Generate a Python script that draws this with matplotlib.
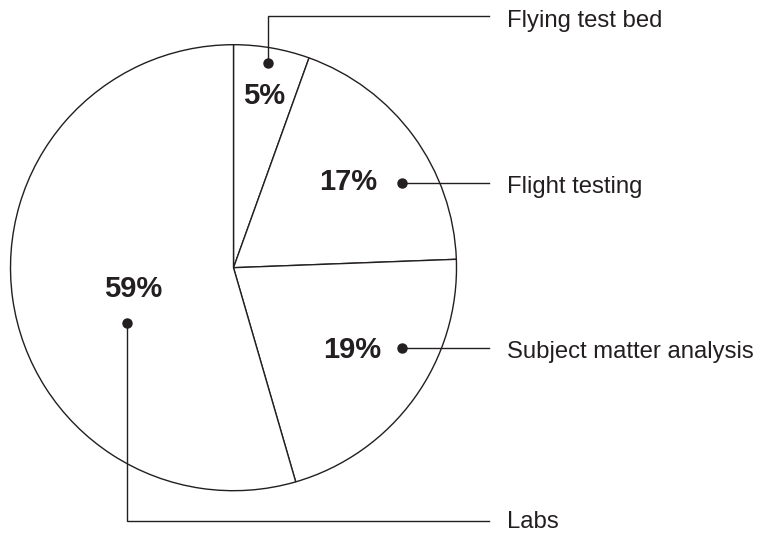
import matplotlib
matplotlib.use("Agg")
import matplotlib.pyplot as plt

# ---- data (wedge shares; printed labels as shown) ----
categories = ["Flying test bed", "Flight testing", "Subject matter analysis", "Labs"]
wedge_shares = [5.5, 18.9, 21.1, 54.5]
pct_labels = ["5%", "17%", "19%", "59%"]

W, H = 760, 533
INK = "#231f20"

def Y(y):
    return H - y

fig = plt.figure(figsize=(W / 100, H / 100), dpi=100)
ax = fig.add_axes([0, 0, 1, 1])

cx, cy, r = 233.5, 267.7, 223
ax.pie(wedge_shares, startangle=90, counterclock=False,
       center=(cx, Y(cy)), radius=r,
       wedgeprops=dict(facecolor="white", edgecolor=INK, linewidth=1.0))
ax.set_xlim(0, W)
ax.set_ylim(0, H)
ax.set_aspect("auto")
ax.axis("off")

# percent label positions (layout)
pct_pos = [(264.0, 96.5), (347.7, 182.5), (352.0, 349.5), (133.3, 289.0)]
for (px, py), lab in zip(pct_pos, pct_labels):
    ax.text(px, Y(py), lab, ha="center", va="center", fontsize=21,
            fontweight="bold", family="Liberation Sans", color=INK)

# leader paths (layout)
text_x = 507
leaders = [
    [(268.3, 63.3), (268.3, 15.7), (489, 15.7)],
    [(401.7, 182.7), (489, 182.7)],
    [(401.7, 347.7), (489, 347.7)],
    [(126.7, 322.7), (126.7, 521), (489, 521)],
]
baselines = [26.7, 192.7, 358.3, 528.3]

for path, name, bl in zip(leaders, categories, baselines):
    xs = [p[0] for p in path]
    ys = [Y(p[1]) for p in path]
    ax.plot(xs, ys, color=INK, linewidth=1.0, solid_joinstyle="miter")
    ax.plot(xs[0], ys[0], "o", color=INK, markersize=6.5)
    ax.text(text_x, Y(bl), name, ha="left", va="baseline", fontsize=17.2,
            family="Liberation Sans", color=INK)

fig.savefig("out.png", dpi=100, facecolor="white")
